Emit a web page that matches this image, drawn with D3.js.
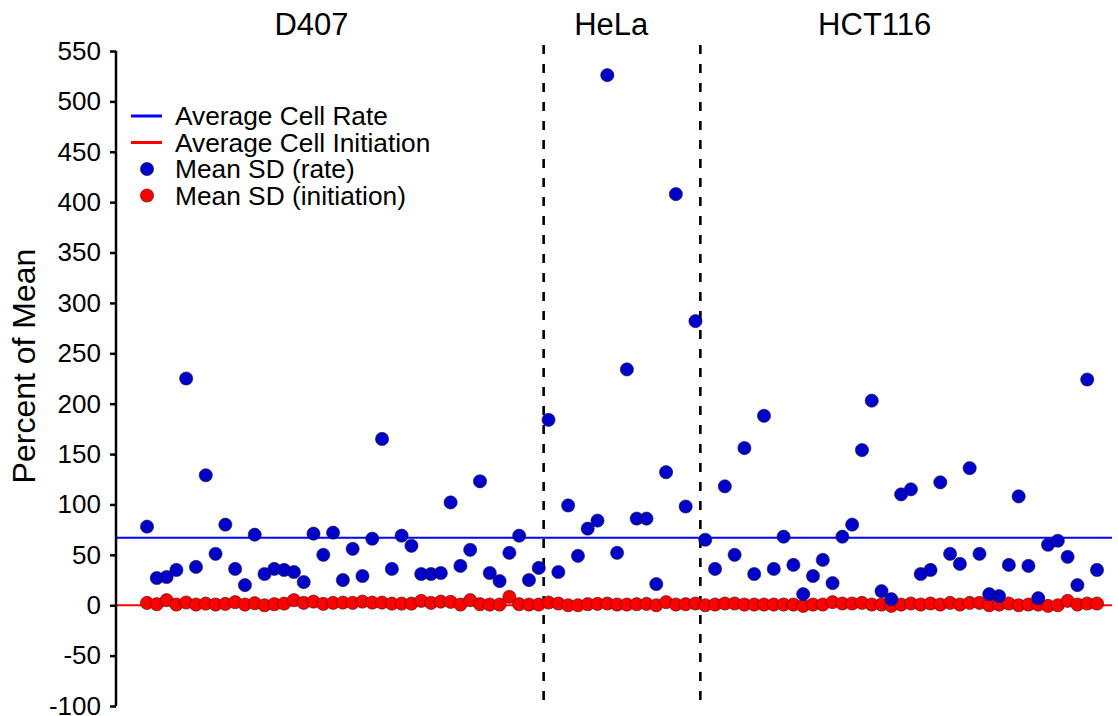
<!DOCTYPE html>
<html>
<head>
<meta charset="utf-8">
<script src="https://cdn.jsdelivr.net/npm/d3@7"></script>
<style>
  body { margin: 0; background: #fff; }
  text { font-family: "Liberation Sans", Arial, sans-serif; fill: #000; }
</style>
</head>
<body>
<svg id="chart" width="1118" height="716"></svg>
<script>
// cell lines and how many cells each one has
var groups = ["D407", "HeLa", "HCT116"];
var groupSizes = [41, 16, 41];

// Mean SD (rate), percent of mean
var rateD407 = [78, 27, 28, 35, 225, 38, 129, 51, 80, 36, 20, 70, 31, 36, 35, 33, 23, 71, 50, 72,
  25, 56, 29, 66, 165, 36, 69, 59, 31, 31, 32, 102, 39, 55, 123, 32, 24, 52, 69, 25, 37];
var rateHeLa = [184, 33, 99, 49, 76, 84, 526, 52, 234, 86, 86, 21, 132, 408, 98, 282];
var rateHCT116 = [65, 36, 118, 50, 156, 31, 188, 36, 68, 40, 11, 29, 45, 22, 68, 80, 154, 203, 14, 6,
  110, 115, 31, 35, 122, 51, 41, 136, 51, 11, 9, 40, 108, 39, 7, 60, 64, 48, 20, 224, 35];

// Mean SD (initiation), percent of mean
var initD407 = [2.3, 1, 5, 0.7, 2.7, 0.7, 1.6, 0.7, 1.3, 3, 0.7, 2, 0, 1, 1.6, 5, 2.3, 3.6, 1.3, 2.3,
  2.6, 2.3, 3.6, 2.6, 2.6, 1.6, 1.6, 1.6, 4.3, 2.3, 3.6, 3.3, 0.7, 5, 1, 0.7, 0.7, 8.3, 1, 0.7, 0.7];
var initHeLa = [2.7, 1.7, 0, 0, 1, 1.3, 1.7, 0.7, 0.7, 1, 1.3, 0, 3, 0.7, 1, 1.7];
var initHCT116 = [0, 0.7, 1.7, 1.7, 0.7, 0.7, 0.7, 0.7, 0.7, 0.7, -0.7, 0.7, 0.7, 3, 1.7, 1.7, 2.3, 0.7, 0.7, -0.7,
  0.7, 1.7, 0.7, 1.7, 0.7, 2.3, 0.7, 2.3, 2.3, 0, 0.7, 1.7, 0, 0.7, 0.7, -0.7, 0, 4.3, 0.7, 1.7, 1.7];

// averages drawn as horizontal lines
var avgRate = 67;
var avgInitiation = 0;

var yTicks = [-100, -50, 0, 50, 100, 150, 200, 250, 300, 350, 400, 450, 500, 550];
var legendItems = ["Average Cell Rate", "Average Cell Initiation", "Mean SD (rate)", "Mean SD (initiation)"];

var rateAll = rateD407.concat(rateHeLa, rateHCT116);
var initAll = initD407.concat(initHeLa, initHCT116);
var total = rateAll.length;

var svg = d3.select("#chart");
var axisX = 116;
var rightEdge = 1112;
var topY = 51, bottomY = 706;

var x = d3.scaleLinear().domain([0, total - 1]).range([147, 1097]);
var y = d3.scaleLinear().domain([-100, 550]).range([bottomY, topY]);

// group titles (placed by hand in the original, in index units)
var titleAt = [16.8, 47.4, 74.3];
svg.append("g").selectAll("text")
  .data(groups)
  .enter().append("text")
  .attr("x", function(d, i) { return x(titleAt[i]); })
  .attr("y", 35)
  .attr("text-anchor", "middle")
  .style("font-size", "31px")
  .text(function(d) { return d; });

// dashed separators between the cell lines
var bounds = [];
var acc = 0;
for (var i = 0; i < groupSizes.length - 1; i++) {
  acc += groupSizes[i];
  bounds.push(acc - 0.5);
}
svg.append("g").selectAll("line")
  .data(bounds)
  .enter().append("line")
  .attr("x1", function(d) { return x(d); })
  .attr("x2", function(d) { return x(d); })
  .attr("y1", 45)
  .attr("y2", bottomY)
  .attr("stroke", "#000")
  .attr("stroke-width", 2.6)
  .attr("stroke-dasharray", "9,10");

// average lines
svg.append("line")
  .attr("x1", axisX).attr("x2", rightEdge)
  .attr("y1", y(avgRate)).attr("y2", y(avgRate))
  .attr("stroke", "#0000ff").attr("stroke-width", 2);
svg.append("line")
  .attr("x1", axisX).attr("x2", rightEdge)
  .attr("y1", y(avgInitiation)).attr("y2", y(avgInitiation))
  .attr("stroke", "#ff0000").attr("stroke-width", 2);

// initiation points (red) under the rate points (blue)
svg.append("g").selectAll("circle")
  .data(initAll)
  .enter().append("circle")
  .attr("cx", function(d, i) { return x(i); })
  .attr("cy", function(d) { return y(d); })
  .attr("r", 6.6)
  .attr("fill", "#ff0000")
  .attr("stroke", "#3a1010")
  .attr("stroke-width", 0.6);

svg.append("g").selectAll("circle")
  .data(rateAll)
  .enter().append("circle")
  .attr("cx", function(d, i) { return x(i); })
  .attr("cy", function(d) { return y(d); })
  .attr("r", 6.6)
  .attr("fill", "#0000c8")
  .attr("stroke", "#1a1a3a")
  .attr("stroke-width", 0.6);

// y axis, plain hyphen for negatives like the original
var yAxis = d3.axisLeft(y).tickValues(yTicks).tickSize(6).tickPadding(9)
  .tickFormat(function(d) { return String(d); });
var gy = svg.append("g")
  .attr("transform", "translate(" + axisX + ",0)")
  .call(yAxis);
gy.select(".domain").attr("stroke-width", 2.5).attr("d", "M0," + bottomY + "V" + topY);
gy.selectAll(".tick line").attr("stroke-width", 2.5);
gy.selectAll(".tick text")
  .style("font-size", "26px")
  .style("font-family", "'Liberation Sans', Arial, sans-serif");

svg.append("text")
  .attr("transform", "translate(35,366) rotate(-90)")
  .attr("text-anchor", "middle")
  .style("font-size", "32px")
  .text("Percent of Mean");

// legend
var legend = svg.append("g").attr("transform", "translate(131,116)");
var rowGap = 26.5;
var legendColors = ["#0000ff", "#ff0000", "#0000c8", "#ff0000"];
legend.selectAll("g")
  .data(legendItems)
  .enter().append("g")
  .attr("transform", function(d, i) { return "translate(0," + (i * rowGap) + ")"; })
  .each(function(d, i) {
    var row = d3.select(this);
    if (i < 2) {
      row.append("line")
        .attr("x1", 0).attr("x2", 31)
        .attr("stroke", legendColors[i]).attr("stroke-width", 3);
    } else {
      row.append("circle")
        .attr("cx", 16).attr("r", 6.6)
        .attr("fill", legendColors[i])
        .attr("stroke", i == 2 ? "#1a1a3a" : "#3a1010")
        .attr("stroke-width", 0.6);
    }
    row.append("text")
      .attr("x", 44)
      .attr("dy", "0.35em")
      .style("font-size", "26.3px")
      .text(d);
  });
</script>
</body>
</html>
